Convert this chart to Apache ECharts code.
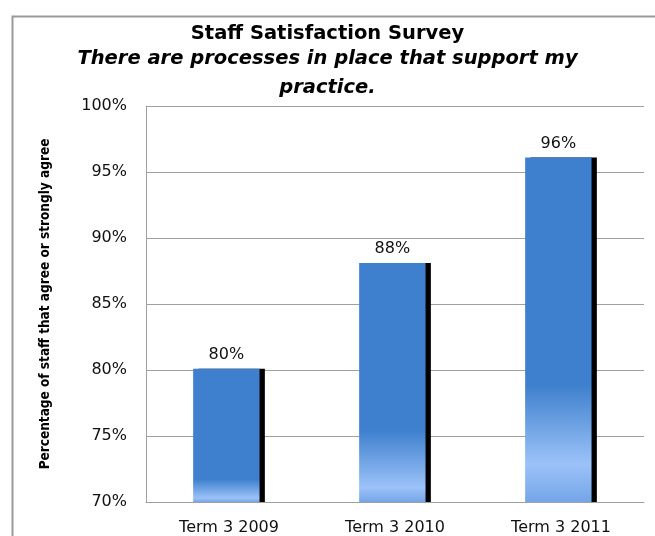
<!DOCTYPE html>
<html>
<head>
<meta charset="utf-8">
<script src="https://cdn.jsdelivr.net/npm/echarts@6/dist/echarts.min.js"></script>
<style>
html,body{margin:0;padding:0;background:#fff;}
#chart{width:655px;height:536px;}
</style>
</head>
<body>
<div id="chart"></div>
<script>
var titleText = 'Staff Satisfaction Survey';
var subtitleText = 'There are processes in place that support my\npractice.';
var yAxisTitle = 'Percentage of staff that agree or strongly agree';
var categories = ['Term 3 2009', 'Term 3 2010', 'Term 3 2011'];
var values = [80.1, 88.1, 96.1];
var yMin = 70, yMax = 100, yStep = 5;

// per-bar gradient stop positions (fraction from bar top)
var solidEnds = [0.83, 0.70, 0.66];
var lightPeaks = [0.97, 0.94, 0.89];

function barGradient(i) {
  return {
    type: 'linear', x: 0, y: 0, x2: 0, y2: 1,
    colorStops: [
      {offset: 0, color: '#3e80cd'},
      {offset: solidEnds[i], color: '#3e80cd'},
      {offset: lightPeaks[i], color: '#9cc2f8'},
      {offset: 1, color: '#74a5e8'}
    ]
  };
}

var chart = echarts.init(document.getElementById('chart'), null, {renderer: 'canvas'});
chart.setOption({
  animation: false,
  backgroundColor: '#fff',
  graphic: [{
    type: 'rect', left: 10, top: 14,
    shape: {width: 700, height: 600},
    style: {fill: 'none', stroke: '#999999', lineWidth: 2},
    z: -10
  }],
  title: {
    text: titleText,
    subtext: subtitleText,
    left: 'center',
    top: 19,
    itemGap: 0,
    textStyle: {fontFamily: 'DejaVu Sans', fontWeight: 'bold', fontSize: 19.5, color: '#000'},
    subtextStyle: {fontFamily: 'DejaVu Sans', fontWeight: 'bold', fontStyle: 'italic', fontSize: 19.5, color: '#000', lineHeight: 29, align: 'center'}
  },
  grid: {left: 146, right: 11, top: 106, bottom: 34, containLabel: false},
  xAxis: {
    type: 'category',
    data: categories,
    axisLine: {lineStyle: {color: '#a0a0a0', width: 1}},
    axisTick: {show: false},
    axisLabel: {fontFamily: 'DejaVu Sans', fontSize: 16, color: '#111', margin: 18}
  },
  yAxis: {
    type: 'value',
    min: yMin, max: yMax, interval: yStep,
    name: yAxisTitle,
    nameLocation: 'middle',
    nameRotate: 90,
    nameGap: 94,
    nameTextStyle: {fontFamily: "'DejaVu Sans Condensed', 'Open Sans'", fontWeight: 'bold', fontSize: 13.5, color: '#000'},
    axisLine: {show: true, lineStyle: {color: '#a0a0a0', width: 1}},
    axisTick: {show: false},
    splitLine: {lineStyle: {color: '#a0a0a0', width: 1}},
    axisLabel: {formatter: '{value}%', fontFamily: 'DejaVu Sans', fontSize: 16, color: '#111', margin: 19}
  },
  series: [{
    type: 'bar',
    barWidth: '40%',
    barGap: '-92%',
    z: 3,
    data: values.map(function (v, i) { return {value: v, itemStyle: {color: barGradient(i)}}; }),
    label: {
      show: true, position: 'top', distance: 6,
      formatter: function (p) { return Math.round(p.value) + '%'; },
      fontFamily: 'DejaVu Sans', fontSize: 16, color: '#111'
    }
  }, {
    type: 'bar',
    barWidth: '40%',
    barGap: '-92%',
    z: 2,
    silent: true,
    data: values,
    itemStyle: {color: '#000'}
  }]
});
</script>
</body>
</html>
